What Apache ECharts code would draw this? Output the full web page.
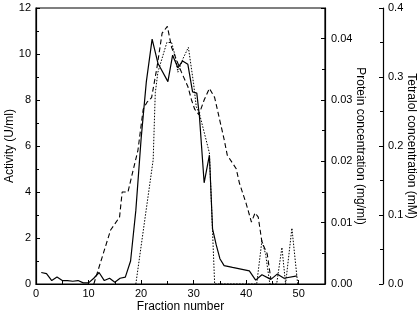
<!DOCTYPE html>
<html>
<head>
<meta charset="utf-8">
<script src="https://cdn.jsdelivr.net/npm/echarts@6/dist/echarts.min.js"></script>
<style>
html, body { margin: 0; padding: 0; background: #fff; }
#chart { width: 420px; height: 315px; }
</style>
</head>
<body>
<div id="chart"></div>
<script>
// activity (U/ml), solid line: [fraction, value]
const activity = [
  [1, 0.5], [2, 0.45], [3, 0.15], [4, 0.3], [5, 0.15], [6, 0.15], [7, 0.12], [8, 0.15],
  [9, 0.05], [10, 0.05], [11, 0.25], [12, 0.5], [13, 0.15], [14, 0.25], [15, 0.08],
  [16, 0.25], [17, 0.3], [18, 1.0], [19, 3.2], [20, 6.3], [21, 8.8], [22.1, 10.65],
  [23.2, 9.6], [25.1, 8.8], [26, 9.95], [27, 9.4], [27.9, 9.7], [28.9, 9.55],
  [29.8, 8.35], [30.6, 8.3], [31.1, 7.3], [32, 4.4], [33, 5.6], [33.6, 2.4],
  [34.3, 1.7], [35, 1.1], [35.8, 0.8], [37.4, 0.72], [40.6, 0.57], [41.8, 0.17],
  [43, 0.4], [44.7, 0.2], [45.9, 0.43], [47.2, 0.25], [49.7, 0.35]
]
// protein (mg/ml), dashed line
const protein = [
  [11, 0.0], [11.3, 0.0002], [14.2, 0.0088], [15.9, 0.0109], [16.4, 0.015], [17.5, 0.015],
  [18.5, 0.0186], [19.4, 0.0218], [20.4, 0.0285], [21.1, 0.0296], [22, 0.0304],
  [23, 0.0352], [24, 0.0409], [25, 0.042], [25.8, 0.0386], [26.8, 0.0364],
  [27.7, 0.0345], [28.9, 0.0322], [29.6, 0.03], [30.2, 0.0285], [31, 0.0276],
  [32, 0.03], [33, 0.0319], [34, 0.0304], [35, 0.0266], [35.8, 0.0236],
  [36.4, 0.021], [38.1, 0.0188], [38.7, 0.0165], [40, 0.0131], [41, 0.0101],
  [41.7, 0.0116], [42.3, 0.0109], [43, 0.0068], [44, 0.0049], [44.7, 0.0008]
]
// tetralol (mM), dotted line
const tetralol = [
  [19, 0], [22.3, 0.18], [22.7, 0.277], [23.2, 0.307], [24.9, 0.35], [25.8, 0.35],
  [26.5, 0.33], [27, 0.307], [28, 0.327], [29, 0.343], [30, 0.29], [30.5, 0.257],
  [31.1, 0.247], [33, 0.19], [34, 0], [42, 0], [43, 0.063], [43.7, 0.043],
  [44.5, 0], [45.8, 0], [46.8, 0.053], [47.5, 0], [48.7, 0.081], [49.8, 0]
]

const chart = echarts.init(document.getElementById('chart'))
const txt = { color: '#000', fontFamily: 'Liberation Sans, Arial, sans-serif' }
const axisBase = {
  axisLine: { show: true, lineStyle: { color: '#000', width: 1.2 } },
  axisTick: { show: true, inside: true, length: 4, lineStyle: { color: '#000' } },
  minorTick: { show: true, splitNumber: 2, length: 3, lineStyle: { color: '#000' } },
  splitLine: { show: false },
  nameMoveOverlap: false,
  nameTextStyle: Object.assign({ fontSize: 12 }, txt)
}

const option = {
  animation: false,
  backgroundColor: '#fff',
  grid: {
    left: 36, right: 95, top: 8, bottom: 31, containLabel: false, outerBoundsMode: 'none',
    show: true, borderColor: '#000', borderWidth: 1.2
  },
  xAxis: Object.assign({}, axisBase, {
    type: 'value', min: 0, max: 55, interval: 10,
    name: 'Fraction number', nameLocation: 'middle', nameGap: 17,
    axisLabel: Object.assign({ fontSize: 11, margin: 4, showMaxLabel: false }, txt)
  }),
  yAxis: [
    Object.assign({}, axisBase, {
      type: 'value', min: 0, max: 12, interval: 2, position: 'left',
      name: 'Activity (U/ml)', nameLocation: 'middle', nameGap: 20,
      axisLabel: Object.assign({ fontSize: 11, margin: 5 }, txt)
    }),
    Object.assign({}, axisBase, {
      type: 'value', min: 0, max: 0.045, interval: 0.01, position: 'right',
      name: 'Protein concentration (mg/ml)', nameLocation: 'middle', nameGap: 29, nameRotate: -90,
      axisLabel: Object.assign({ fontSize: 11, margin: 6, showMaxLabel: false,
        formatter: v => v.toFixed(2) }, txt)
    }),
    Object.assign({}, axisBase, {
      type: 'value', min: 0, max: 0.4, interval: 0.1, position: 'right', offset: 58,
      name: 'Tetralol concentration (mM)', nameLocation: 'middle', nameGap: 22, nameRotate: -90,
      axisLabel: Object.assign({ fontSize: 11, margin: 5, formatter: v => v.toFixed(1) }, txt)
    })
  ],
  series: [
    {
      type: 'line', yAxisIndex: 0, data: activity, showSymbol: false,
      lineStyle: { color: '#000', width: 1.2, type: 'solid' }
    },
    {
      type: 'line', yAxisIndex: 1, data: protein, showSymbol: false,
      lineStyle: { color: '#000', width: 1.1, type: [5, 3] }
    },
    {
      type: 'line', yAxisIndex: 2, data: tetralol, showSymbol: false,
      lineStyle: { color: '#000', width: 1, type: [1.5, 1.5] }
    }
  ]
}
chart.setOption(option)
</script>
</body>
</html>
